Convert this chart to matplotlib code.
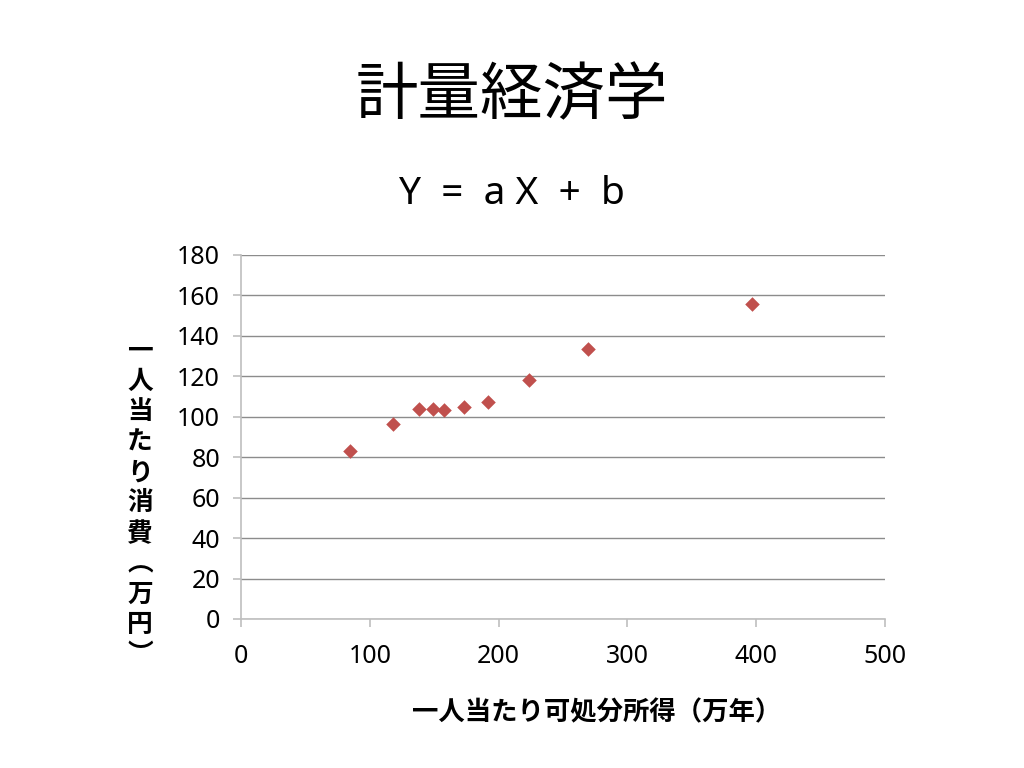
import matplotlib.pyplot as plt

plt.rcParams['font.family'] = ['Noto Sans', 'Noto Sans CJK JP', 'DejaVu Sans']

# data
income = [84.8, 117.8, 138.0, 149.3, 157.6, 173.3, 191.8, 223.3, 269.2, 397.0]
consumption = [83.0, 96.3, 103.8, 103.8, 103.3, 104.6, 107.2, 118.1, 133.3, 155.9]
xticks = [0, 100, 200, 300, 400, 500]
yticks = [0, 20, 40, 60, 80, 100, 120, 140, 160, 180]

title = '計量経済学'
subtitle = 'Y  =  a X  +  b'
xlabel = '一人当たり可処分所得（万年）'
ylabel = '一人当たり消費︵万円︶'

fig = plt.figure(figsize=(10.24, 7.68), dpi=100)
ax = fig.add_axes([241/1024, 1-619/768, 644/1024, 364/768])

ax.scatter(income, consumption, marker='D', s=55, color='#C0504D', zorder=3, linewidths=0)

ax.set_xlim(0, 500)
ax.set_ylim(0, 180)
ax.set_xticks(xticks)
ax.set_yticks(yticks)
ax.grid(axis='y', color='#8C8C8C', linewidth=1.0)
ax.set_axisbelow(True)
for s in ['top', 'right']:
    ax.spines[s].set_visible(False)
for s in ['left', 'bottom']:
    ax.spines[s].set_color('#BFBFBF')
    ax.spines[s].set_linewidth(1.2)
ax.tick_params(axis='both', direction='out', length=6, width=1.2, color='#BFBFBF',
               labelsize=18)
ax.tick_params(axis='x', pad=12)
ax.tick_params(axis='y', pad=9)

fig.text(0.5, 1-96/768, title, ha='center', va='center', fontsize=45,
         family=['Noto Sans CJK JP'])
fig.text(0.5, 1-194/768, subtitle, ha='center', va='center', fontsize=28)
fig.text(597/1024, 1-713/768, xlabel, ha='center', va='center', fontsize=19,
         fontweight='bold', family=['Noto Sans CJK JP'])
fig.text(140/1024, 1-503/768, '\n'.join(ylabel), ha='center', va='center', fontsize=18.5,
         fontweight='bold', family=['Noto Sans CJK JP'], linespacing=1.16)

fig.savefig('out.png', dpi=100)
